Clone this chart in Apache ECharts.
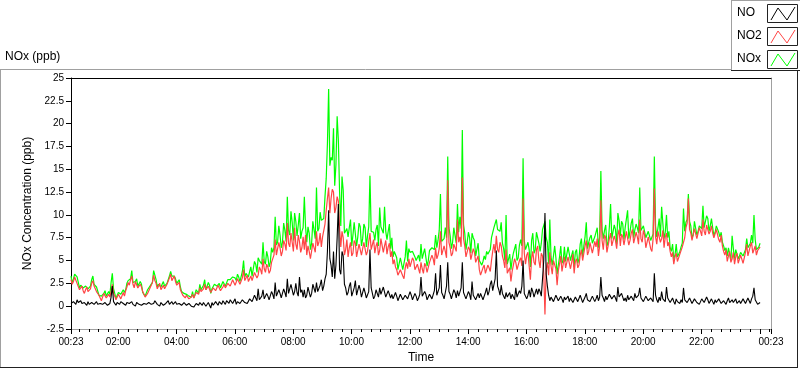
<!DOCTYPE html>
<html>
<head>
<meta charset="utf-8">
<title>NOx (ppb)</title>
<script src="https://cdn.jsdelivr.net/npm/echarts@6/dist/echarts.min.js"></script>
<style>
  html, body { margin: 0; padding: 0; background: #fff; }
  #chart { width: 800px; height: 369px; }
</style>
</head>
<body>
<div id="chart"></div>
<script>
// NOx record, one value every 2.5 minutes from 00:23 (one row = one hour)
const startMinute = 23;
const stepMinutes = 2.5;

const no2Values = [
  2.9,2.4, 2.7,3.2, 3.0,2.5, 2.3,1.8, 1.9,2.2, 1.7,1.4, 1.8,2.1, 1.6,1.8, 1.9,2.5, 2.8,2.2, 2.0,1.6, 1.7,1.2,
  1.1,0.6, 0.8,1.4, 1.2,0.9, 0.7,1.3, 1.0,1.6, 2.4,1.4, 1.1,0.7, 0.8,1.3, 1.2,0.8, 0.9,1.5, 1.1,1.7, 2.1,2.6,
  2.3,2.9, 3.3,2.4, 2.0,2.7, 2.6,2.0, 1.8,2.4, 2.1,1.6, 1.4,1.0, 0.9,1.4, 1.3,2.0, 1.9,2.6, 3.4,2.8, 2.5,1.9,
  2.1,2.5, 1.8,2.0, 2.3,1.9, 2.0,2.4, 2.6,3.1, 3.5,2.8, 3.0,3.3, 2.7,2.3, 2.2,2.6, 1.8,1.5, 1.2,1.0, 0.9,1.2,
  1.1,0.8, 0.7,1.0, 1.3,0.9, 1.0,1.5, 1.6,1.3, 2.0,1.6, 1.5,1.9, 2.4,1.8, 1.7,2.2, 2.0,1.5, 1.6,2.0, 2.1,1.7,
  1.9,2.3, 2.2,1.7, 1.8,2.1, 2.4,2.0, 2.0,2.5, 2.6,2.2, 2.3,2.9, 2.7,2.3, 2.4,3.0, 2.8,2.4, 2.5,3.1, 4.0,2.8,
  3.0,3.4, 2.7,3.0, 3.3,2.8, 2.9,3.7, 3.6,3.1, 3.4,4.3, 4.0,3.5, 5.2,4.1, 3.7,4.6, 4.3,3.6, 3.9,4.8, 4.6,5.6,
  7.3,5.6, 5.8,7.0, 6.4,5.5, 6.0,7.2, 6.8,6.1, 9.1,6.9, 6.5,8.0, 7.0,6.0, 8.6,6.8, 6.2,7.8, 7.1,5.9, 6.4,7.6,
  6.2,7.8, 5.6,6.6, 6.0,5.2, 5.4,6.9, 6.8,5.9, 8.2,6.6, 7.0,8.0, 6.5,7.6, 7.4,9.0, 10.5,11.8, 13.0,10.2, 11.8,12.8,
  12.5,10.2, 10.8,12.0, 11.5,8.5, 6.5,8.2, 7.5,5.6, 6.2,7.3, 5.4,6.4, 7.0,5.5, 5.8,7.2, 6.9,5.4, 5.2,6.8, 6.6,5.6,
  5.5,7.0, 6.8,5.6, 6.0,7.1, 8.0,6.2, 6.4,7.3, 5.8,6.6, 7.0,5.6, 6.1,7.4, 7.3,5.9, 6.6,7.2, 5.7,6.5, 6.9,5.4,
  6.0,4.6, 5.1,4.3, 4.0,3.4, 3.2,4.0, 4.1,3.3, 3.0,4.2, 4.8,4.1, 5.2,4.3, 4.5,5.3, 5.0,4.0, 3.8,4.6, 4.4,3.6,
  4.8,4.1, 3.6,4.7, 4.4,3.7, 3.9,4.8, 4.6,5.6, 5.2,4.5, 6.4,5.2, 5.6,6.3, 8.2,5.6, 5.5,6.6, 6.0,5.3, 13.8,7.0,
  6.4,5.5, 5.8,6.8, 7.0,6.0, 9.5,7.0, 7.6,6.5, 14.1,7.4, 6.6,5.4, 5.6,6.5, 6.2,5.1, 5.3,6.3, 5.9,4.8, 4.6,5.5,
  4.0,3.4, 3.2,4.2, 4.5,3.6, 3.5,4.5, 4.2,3.8, 5.0,6.0, 6.8,5.8, 7.7,6.2, 5.9,7.0, 6.6,5.5, 5.0,4.2, 6.2,3.6,
  3.4,4.2, 2.7,3.8, 4.5,5.2, 4.8,4.0, 4.0,5.0, 5.3,4.4, 11.8,5.8, 4.6,5.6, 5.9,4.4, 2.9,5.2, 6.0,4.8, 4.5,6.2,
  6.6,5.0, 4.2,5.8, 5.5,3.6, -0.9,4.0, 4.8,3.4, 5.9,4.4, 3.5,5.0, 5.2,4.1, 2.3,3.9, 4.6,5.5, 3.8,4.6, 5.4,4.2,
  4.4,5.4, 5.6,4.1, 4.8,5.7, 3.6,4.9, 5.2,4.2, 4.5,5.6, 6.2,5.0, 5.8,6.6, 7.2,5.6, 6.0,7.0, 6.8,5.8, 5.9,7.1,
  6.5,7.4, 5.5,6.6, 11.6,7.2, 6.2,7.8, 7.5,5.9, 6.0,7.4, 8.0,6.6, 6.4,7.7, 7.2,6.3, 7.8,8.4, 6.6,7.9, 7.6,6.7,
  6.9,8.2, 8.0,6.7, 7.2,8.0, 8.4,6.9, 6.8,8.1, 7.6,6.8, 9.5,7.4, 7.0,8.3, 7.8,6.4, 6.2,7.6, 7.5,6.3, 6.0,7.4,
  12.9,7.6, 6.8,8.2, 8.4,7.0, 7.4,8.3, 6.4,7.6, 8.0,6.6, 7.0,6.0, 5.4,5.9, 4.6,5.4, 5.8,4.9, 4.8,5.7, 5.6,6.5,
  6.4,7.5, 8.6,9.1, 11.8,8.4, 8.0,7.2, 7.2,8.5, 8.6,7.4, 7.6,8.6, 8.2,7.7, 9.5,8.2, 7.8,8.9, 9.0,7.9, 8.2,8.8,
  8.0,7.5, 7.4,8.4, 8.3,7.3, 7.0,7.8, 6.6,6.0, 5.6,6.2, 4.9,5.5, 6.0,4.8, 5.2,5.9, 4.6,5.4, 5.8,4.7, 4.8,5.6,
  5.4,4.7, 4.6,5.9, 6.8,5.5, 5.6,6.6, 7.0,5.8, 6.0,6.6, 5.6,6.1, 6.2,6.5
];

const noxValues = [
  3.3,2.5, 3.0,3.5, 3.5,3.2, 2.6,2.0, 2.3,2.5, 2.0,1.8, 2.2,2.2, 1.9,2.0, 2.2,2.9, 3.3,2.4, 2.3,2.1, 2.1,1.2,
  1.4,1.1, 1.2,1.4, 1.7,1.1, 1.0,1.6, 1.3,2.6, 3.6,1.9, 1.4,0.8, 1.2,1.5, 1.6,1.3, 1.2,1.8, 1.5,1.8, 2.5,2.8,
  2.7,3.0, 3.9,2.6, 2.4,2.7, 3.0,2.2, 2.1,2.7, 2.4,1.5, 1.7,1.1, 1.2,1.8, 1.6,2.2, 2.3,2.6, 3.9,3.4, 2.9,2.1,
  2.4,2.5, 2.1,2.2, 2.7,2.2, 2.3,2.5, 2.9,3.3, 3.8,3.3, 3.3,3.3, 3.0,2.5, 2.5,2.9, 2.1,1.6, 1.5,1.4, 1.2,1.3,
  1.4,1.1, 1.1,1.0, 1.6,0.9, 1.3,1.8, 1.9,1.4, 2.4,1.8, 1.8,2.3, 2.9,1.8, 2.0,2.6, 2.3,1.4, 1.9,2.1, 2.4,2.2,
  2.2,2.4, 2.5,2.0, 2.2,2.7, 2.8,2.2, 2.4,2.9, 3.0,2.9, 2.7,3.2, 3.1,3.1, 2.8,3.5, 3.2,2.7, 2.9,3.8, 5.0,3.2,
  3.6,3.7, 3.2,3.8, 4.3,3.3, 3.5,4.9, 4.6,3.7, 5.3,5.0, 4.8,4.6, 7.0,4.9, 4.6,6.0, 5.4,4.3, 4.8,6.4, 5.9,6.4,
  9.8,6.7, 7.0,8.8, 7.8,6.4, 7.0,9.1, 8.3,7.1, 12.0,8.3, 7.8,10.4, 9.2,7.2, 10.2,9.3, 7.7,8.9, 10.2,7.4, 8.2,8.6,
  12.0,8.7, 7.0,8.7, 8.0,6.2, 6.9,9.3, 9.1,7.4, 13.0,8.2, 8.5,10.3, 9.4,9.3, 9.6,12.0, 14.0,17.8, 23.8,15.4, 16.3,16.0,
  19.5,13.2, 15.5,20.8, 18.2,12.5, 8.8,14.2, 12.7,8.0, 8.0,8.5, 7.6,8.6, 9.5,6.6, 7.8,9.2, 9.3,6.6, 7.6,9.1, 8.7,6.6,
  7.4,9.0, 8.6,6.5, 7.7,8.7, 14.3,8.2, 8.3,8.1, 7.2,8.4, 8.9,6.6, 10.8,8.7, 8.9,8.0, 10.9,8.2, 7.3,8.2, 9.0,6.3,
  7.5,5.4, 6.0,5.8, 5.3,4.0, 4.1,5.3, 5.4,4.0, 4.0,5.4, 7.2,4.9, 6.3,5.9, 5.8,6.0, 6.2,5.4, 5.0,5.2, 5.6,4.9,
  6.8,5.2, 5.0,6.3, 6.1,4.4, 5.0,6.1, 6.0,6.4, 6.5,6.2, 7.8,6.4, 7.2,8.3, 12.3,7.1, 7.0,7.4, 8.6,7.5, 16.4,8.6,
  7.7,6.3, 7.0,8.6, 8.4,6.9, 11.2,8.1, 9.8,8.5, 19.3,8.9, 8.0,6.2, 7.0,8.1, 7.5,5.8, 8.0,7.5, 7.2,5.5, 5.6,6.9,
  5.0,4.8, 4.5,4.9, 5.5,5.1, 6.0,5.7, 5.8,6.2, 7.5,7.7, 8.6,8.8, 9.5,8.4, 8.4,8.2, 9.2,6.9, 6.3,5.0, 10.0,4.6,
  4.6,5.7, 4.0,5.1, 5.8,5.9, 6.8,5.0, 5.3,6.7, 7.3,6.6, 16.2,7.2, 6.2,6.4, 7.0,6.2, 4.3,7.2, 8.0,5.8, 6.2,8.1,
  8.0,6.9, 6.0,6.9, 8.4,8.6, 9.3,7.5, 7.0,4.6, 9.5,5.4, 4.5,5.5, 6.6,5.3, 3.5,4.5, 5.4,6.6, 4.7,5.0, 6.5,4.9,
  5.1,6.5, 6.4,5.0, 5.6,6.1, 4.3,5.9, 6.2,4.7, 5.2,6.8, 7.4,5.4, 6.6,7.6, 9.2,6.3, 7.0,7.5, 7.8,6.9, 6.9,7.6,
  7.6,8.6, 6.4,7.6, 14.8,8.4, 7.4,8.3, 8.9,6.6, 7.0,8.7, 11.2,7.4, 7.5,8.9, 8.4,6.8, 10.2,9.4, 7.7,9.3, 9.0,7.3,
  8.6,8.7, 10.5,7.4, 8.2,9.1, 9.6,7.5, 8.4,9.0, 8.6,8.0, 13.0,8.3, 8.4,8.8, 8.8,7.5, 7.5,8.2, 8.3,7.2, 7.0,7.9,
  16.4,8.8, 7.6,8.6, 9.6,7.6, 10.9,9.1, 7.4,8.1, 10.0,7.5, 8.2,6.4, 6.0,6.8, 5.2,5.6, 6.8,5.4, 5.5,6.0, 6.5,6.9,
  10.7,8.2, 9.2,9.5, 12.3,9.3, 8.8,7.5, 7.8,9.3, 9.4,7.8, 8.2,8.8, 8.8,8.5, 11.0,8.6, 8.5,9.9, 9.6,8.2, 8.8,9.6,
  8.6,7.7, 8.1,8.8, 8.8,8.1, 7.6,8.1, 7.0,6.6, 6.1,6.4, 5.5,6.4, 6.5,5.0, 7.7,6.3, 5.2,6.2, 6.3,5.2, 5.5,5.9,
  5.9,5.5, 5.4,6.2, 7.4,6.4, 6.3,6.9, 7.8,6.9, 10.0,7.3, 6.2,6.3, 6.5,6.9
];

const noValues = [
  0.3,0.1, 0.5,0.3, 0.2,0.7, 0.4,0.2, 0.6,0.3, 0.2,0.4, 0.3,0.1, 0.5,0.2, 0.1,0.4, 0.4,0.2, 0.3,0.5, 0.2,0.0,
  0.3,0.5, 0.2,0.0, 0.4,0.2, 0.1,0.3, 0.3,1.0, 2.2,0.5, 0.3,0.1, 0.4,0.2, 0.2,0.5, 0.5,0.3, 0.3,0.1, 0.4,0.2,
  0.3,0.1, 0.5,0.2, 0.2,0.0, 0.4,0.2, 0.2,0.3, 0.1,-0.1, 0.3,0.1, 0.2,0.4, 0.4,0.2, 0.2,0.0, 0.3,0.6, 0.5,0.2,
  0.2,0.0, 0.4,0.2, 0.1,0.3, 0.3,0.1, 0.6,0.2, 0.3,0.5, 0.2,0.0, 0.5,0.2, 0.1,0.3, 0.3,0.1, 0.2,0.4, 0.4,0.1,
  0.1,0.3, 0.3,0.0, 0.2,-0.1, 0.0,0.3, 0.2,0.1, 0.4,0.2, 0.1,0.4, 0.3,0.0, 0.2,0.4, 0.1,-0.2, 0.4,0.1, 0.3,0.5,
  0.3,0.1, 0.5,0.3, 0.2,0.6, 0.4,0.2, 0.6,0.4, 0.3,0.7, 0.5,0.3, 0.4,0.8, 0.2,0.5, 0.6,0.3, 0.4,0.7, 0.9,0.4,
  0.6,0.3, 0.5,0.8, 1.0,0.5, 0.6,1.2, 1.0,0.6, 1.9,0.7, 0.8,1.1, 1.8,0.8, 0.9,1.4, 1.1,0.7, 0.9,1.6, 1.3,0.8,
  2.6,1.1, 1.2,1.8, 1.4,0.9, 1.0,1.9, 1.5,1.0, 3.0,1.4, 1.3,2.4, 2.2,1.2, 1.6,2.5, 1.5,1.1, 3.2,1.5, 1.8,1.0,
  1.8,0.9, 1.2,2.1, 2.0,1.0, 1.4,2.4, 2.3,1.5, 2.6,1.6, 1.5,2.3, 2.9,1.7, 2.2,3.0, 3.5,6.0, 10.5,5.2, 4.5,3.2,
  6.0,3.0, 4.5,7.5, 11.2,4.0, 3.5,6.0, 5.5,2.4, 2.0,1.2, 1.5,2.2, 2.6,1.1, 1.3,2.0, 2.8,1.2, 1.1,2.3, 1.8,1.0,
  1.2,2.0, 1.5,0.9, 1.0,1.6, 6.2,2.0, 1.4,0.8, 1.1,1.8, 1.6,1.0, 2.0,1.3, 1.3,2.1, 1.9,1.0, 1.0,1.7, 1.5,0.9,
  1.3,0.8, 0.9,1.5, 1.1,0.6, 0.8,1.3, 1.2,0.7, 0.7,1.2, 1.4,0.8, 1.0,1.6, 1.2,0.7, 0.8,1.4, 1.1,0.6, 0.9,1.3,
  3.2,1.1, 1.0,1.6, 1.3,0.7, 0.8,1.3, 1.2,0.8, 1.0,1.7, 3.6,1.2, 1.4,2.0, 4.5,1.5, 1.2,0.8, 1.5,2.2, 4.8,1.6,
  1.3,0.8, 1.0,1.8, 1.5,0.9, 1.7,1.1, 1.2,2.0, 4.8,1.5, 1.4,0.8, 1.0,1.6, 1.3,0.7, 2.7,1.2, 1.1,0.7, 0.9,1.4,
  0.9,1.4, 1.2,0.7, 0.8,1.5, 2.0,1.2, 1.6,2.4, 2.8,1.7, 1.5,3.0, 6.1,2.2, 1.8,1.2, 2.3,1.4, 1.2,0.8, 1.5,1.0,
  1.0,1.5, 0.8,1.3, 1.2,0.7, 2.0,1.0, 1.1,1.7, 1.4,2.2, 5.0,1.4, 1.3,0.8, 1.2,1.8, 1.0,2.0, 1.6,1.0, 1.1,1.9,
  1.3,1.9, 1.6,1.1, 3.0,5.0, 10.2,3.5, 2.2,1.2, 0.6,1.0, 0.9,0.5, 0.7,1.2, 1.0,0.6, 0.6,1.1, 0.8,0.4, 1.0,0.7,
  0.7,1.1, 0.5,0.9, 0.8,0.4, 0.6,1.0, 0.9,0.5, 0.5,1.2, 0.8,0.4, 0.6,1.0, 1.4,0.7, 0.9,0.5, 0.7,1.1, 0.8,0.5,
  0.8,1.2, 0.6,1.0, 3.2,1.2, 0.9,0.5, 1.1,0.7, 0.7,1.3, 1.5,0.8, 0.8,1.2, 0.9,0.5, 2.1,1.0, 0.8,1.4, 1.0,0.6,
  0.9,0.5, 1.2,0.7, 0.7,1.1, 1.0,0.6, 1.4,0.9, 0.8,1.2, 2.0,0.9, 0.9,0.5, 0.7,1.1, 1.0,0.6, 0.6,0.9, 0.8,0.5,
  3.6,1.2, 0.7,0.4, 1.0,0.6, 1.6,0.8, 0.9,0.5, 2.1,0.9, 0.8,0.4, 0.6,0.9, 0.5,0.2, 0.8,0.5, 0.6,0.3, 0.7,0.4,
  2.0,0.7, 0.8,0.4, 0.6,0.9, 0.7,0.3, 0.5,0.8, 0.8,0.4, 0.6,0.2, 0.5,0.8, 0.9,0.4, 0.6,1.0, 0.7,0.3, 0.5,0.8,
  0.5,0.2, 0.7,0.4, 0.4,0.8, 0.6,0.3, 0.3,0.6, 0.5,0.2, 0.6,0.9, 0.4,0.2, 0.7,0.4, 0.5,0.8, 0.3,0.5, 0.6,0.3,
  0.4,0.8, 0.7,0.3, 0.5,0.9, 0.6,0.3, 0.8,1.1, 2.0,0.7, 0.5,0.2, 0.3,0.4
];

// axis: 00:23 to 00:23 next day, in minutes after midnight
const axisStart = 23;
const axisEnd = 23 + 1440;
const labelMinutes = [23, 120, 240, 360, 480, 600, 720, 840, 960, 1080, 1200, 1320, 1463];
const majorTickMinutes = [23, 120, 240, 360, 480, 600, 720, 840, 960, 1080, 1200, 1320, 1440, 1463];
const minorTickMinutes = [];
for (let m = 40; m < axisEnd; m += 20) {
  if (m % 120 !== 0) minorTickMinutes.push(m);
}
const yTicks = { min: -2.5, max: 25, step: 2.5 };

const toPairs = (arr) => arr.map((v, i) => [startMinute + i * stepMinutes, v]);

const fmtTime = (v) => {
  let m = Math.round(v) % 1440;
  let h = Math.floor(m / 60);
  let mm = m % 60;
  return String(h).padStart(2, '0') + ':' + String(mm).padStart(2, '0');
};

const font = 'Liberation Sans, Arial, sans-serif';
let chart = echarts.init(document.getElementById('chart'));

// small box + zigzag like the LabVIEW plot legend
const legendItem = (name, color, y) => {
  return [
    { type: 'text', left: 737, top: y - 7, style: { text: name, font: '12px ' + font, fill: '#000' } },
    { type: 'rect', shape: { x: 767.5, y: y - 9.5, width: 30, height: 18 },
      style: { fill: '#fff', stroke: '#222', lineWidth: 1 } },
    { type: 'polyline', shape: { points: [[771, y + 6], [778, y - 6], [787, y + 6], [795, y - 7]] },
      style: { stroke: color, lineWidth: 1, fill: null } }
  ];
};

let option = {
  animation: false,
  textStyle: { fontFamily: font },
  grid: { left: 71, right: 29, top: 78, bottom: 39, containLabel: false },
  xAxis: [
    {
      type: 'value', min: axisStart, max: axisEnd, position: 'bottom',
      name: 'Time', nameLocation: 'middle', nameGap: 23,
      nameTextStyle: { fontSize: 12, color: '#000' },
      axisLine: { onZero: false, lineStyle: { color: '#a0a0a0', width: 1 } },
      axisTick: { customValues: majorTickMinutes, length: 5, lineStyle: { color: '#000' } },
      axisLabel: { customValues: labelMinutes, formatter: fmtTime, fontSize: 10, color: '#000', margin: 8 },
      splitLine: { show: false }
    },
    {
      type: 'value', min: axisStart, max: axisEnd, position: 'bottom',
      axisLine: { show: false, onZero: false },
      axisTick: { customValues: minorTickMinutes, length: 3, lineStyle: { color: '#000' } },
      axisLabel: { show: false },
      splitLine: { show: false }
    },
    {
      type: 'value', min: axisStart, max: axisEnd, position: 'top',
      axisLine: { onZero: false, lineStyle: { color: '#000' } },
      axisTick: { show: false }, axisLabel: { show: false }, splitLine: { show: false }
    }
  ],
  yAxis: [
    {
      type: 'value', min: yTicks.min, max: yTicks.max, interval: yTicks.step,
      name: 'NOx Concentration (ppb)', nameLocation: 'middle', nameGap: 33,
      nameTextStyle: { fontSize: 12, color: '#000' },
      axisLine: { show: true, onZero: false, lineStyle: { color: '#000' } },
      axisTick: { show: true, length: 5, lineStyle: { color: '#000' } },
      axisLabel: { fontSize: 10, color: '#000', margin: 7 },
      splitLine: { show: false }
    },
    {
      type: 'value', min: yTicks.min, max: yTicks.max, position: 'right',
      axisLine: { show: true, onZero: false, lineStyle: { color: '#a0a0a0' } },
      axisTick: { show: false }, axisLabel: { show: false }, splitLine: { show: false }
    }
  ],
  series: [
    { name: 'NOx', type: 'line', data: toPairs(noxValues), showSymbol: false, z: 2,
      lineStyle: { color: '#00ff00', width: 1.2 }, itemStyle: { color: '#00ff00' } },
    { name: 'NO2', type: 'line', data: toPairs(no2Values), showSymbol: false, z: 3,
      lineStyle: { color: '#ff4545', width: 1.2 }, itemStyle: { color: '#ff4545' } },
    { name: 'NO', type: 'line', data: toPairs(noValues), showSymbol: false, z: 4,
      lineStyle: { color: '#000000', width: 1.1 }, itemStyle: { color: '#000000' } }
  ],
  graphic: [
    { type: 'text', left: 5, top: 51, style: { text: 'NOx (ppb)', font: '12px ' + font, fill: '#000' } },
    // outer frame
    { type: 'line', shape: { x1: 0, y1: 69.5, x2: 731, y2: 69.5 }, style: { stroke: '#a0a0a0' } },
    { type: 'line', shape: { x1: 0.5, y1: 69.5, x2: 0.5, y2: 368 }, style: { stroke: '#a0a0a0' } },
    { type: 'line', shape: { x1: 0, y1: 367.5, x2: 798, y2: 367.5 }, style: { stroke: '#222' } },
    { type: 'line', shape: { x1: 797.5, y1: 70, x2: 797.5, y2: 368 }, style: { stroke: '#222' } },
    // legend frame
    { type: 'line', shape: { x1: 731.5, y1: 0, x2: 731.5, y2: 71 }, style: { stroke: '#a0a0a0' } },
    { type: 'line', shape: { x1: 731, y1: 0.5, x2: 800, y2: 0.5 }, style: { stroke: '#a0a0a0' } },
    { type: 'line', shape: { x1: 731, y1: 70.5, x2: 800, y2: 70.5 }, style: { stroke: '#222' } },
    ...legendItem('NO', '#000000', 14),
    ...legendItem('NO2', '#ff4545', 37),
    ...legendItem('NOx', '#00ff00', 60)
  ]
};

chart.setOption(option);
window.addEventListener('resize', function () {
  chart && chart.resize();
});
</script>
</body>
</html>
